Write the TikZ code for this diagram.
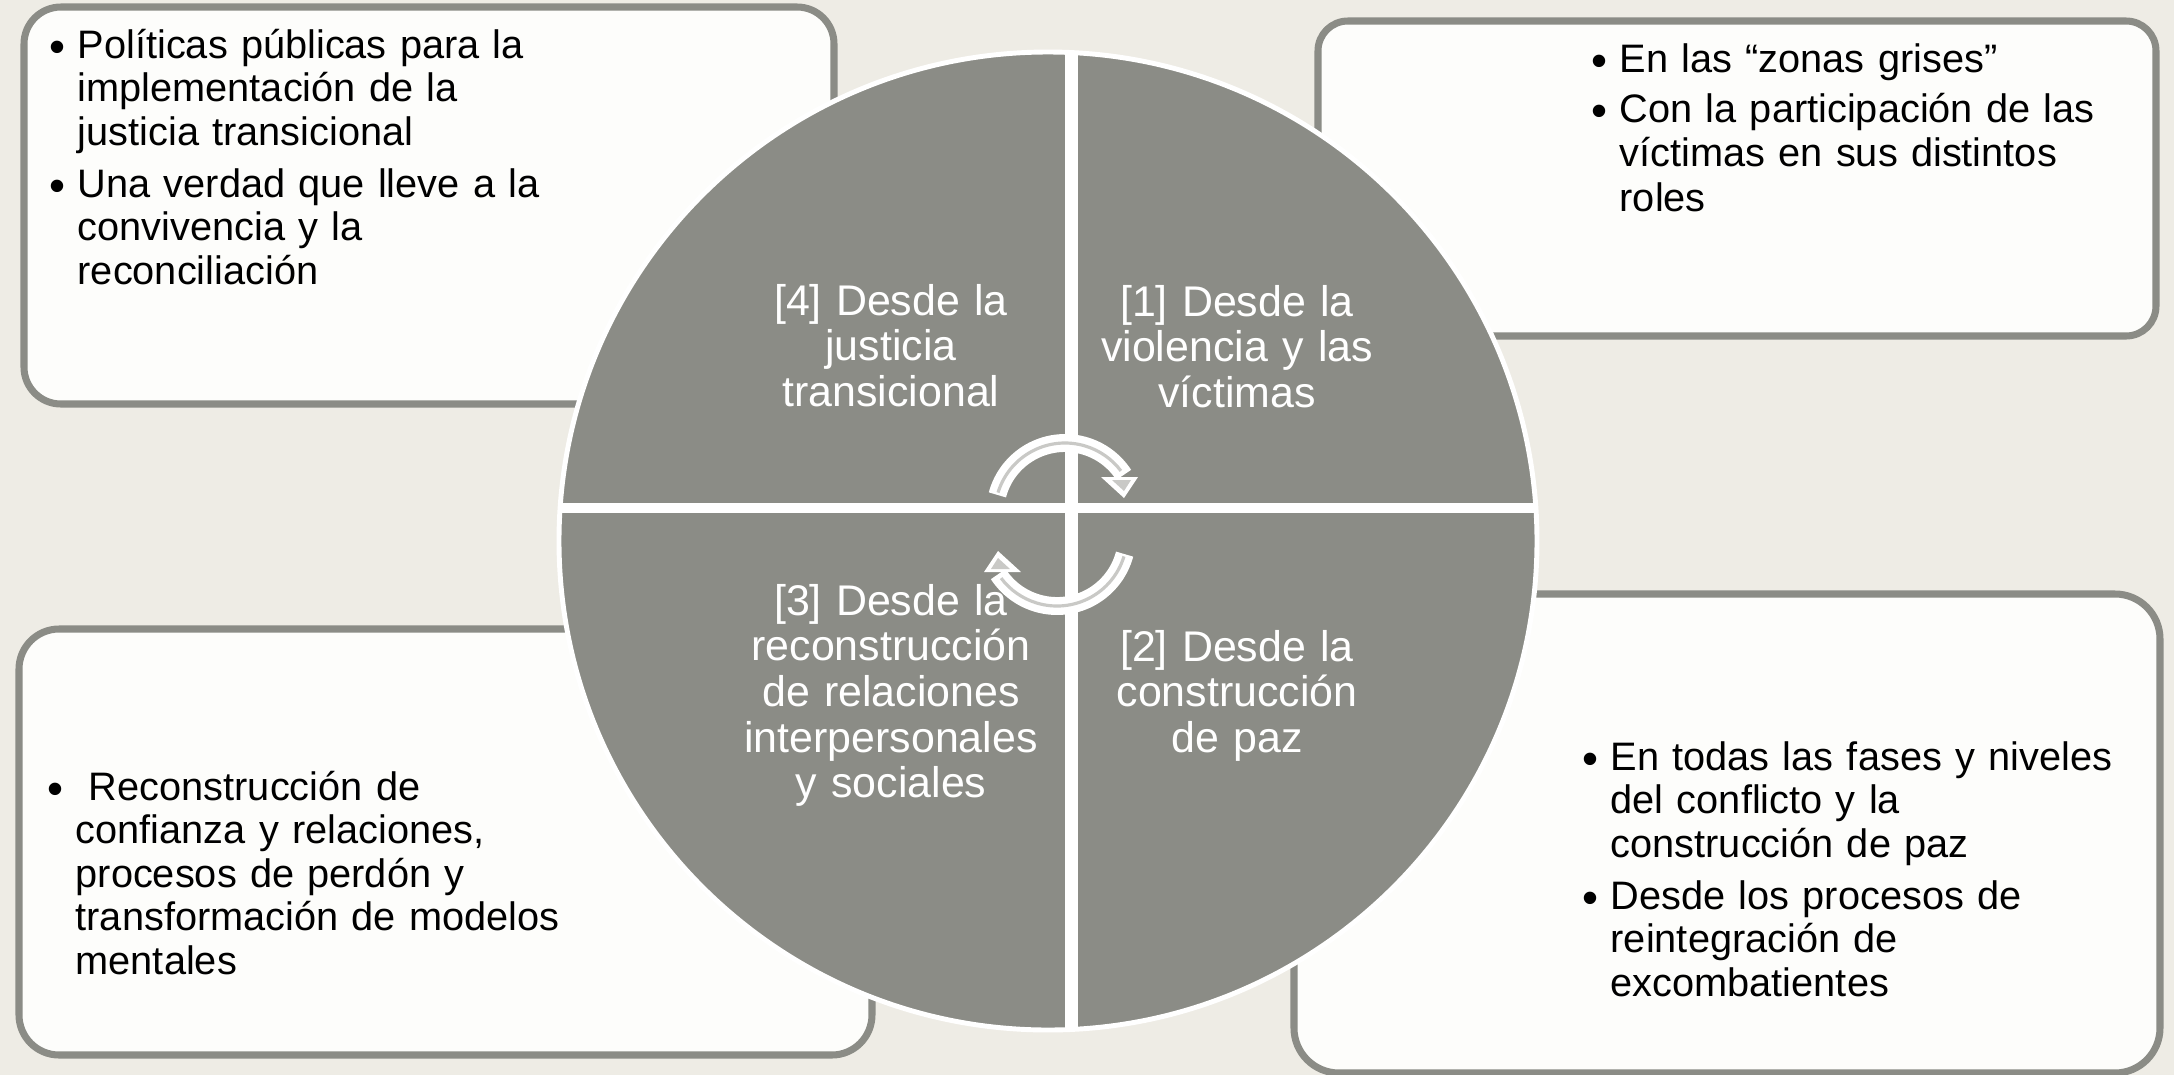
\documentclass[tikz,border=0pt]{standalone}
\usepackage{fontspec}
\setmainfont{Liberation Sans}
\definecolor{bg}{HTML}{EEECE5}
\definecolor{boxfill}{HTML}{FDFDFB}
\definecolor{frame}{HTML}{8B8C86}
\definecolor{disc}{HTML}{8B8C86}
\definecolor{stripe}{HTML}{C9C9C6}
\newcommand{\mybul}{\leavevmode\llap{\raisebox{-1.3pt}{\fontsize{13}{13}\selectfont •}\hspace{3.6pt}}}
\newcommand{\cyclearrow}{%
  \draw[white, line width=5.1pt] ([shift={(-165:70)}]1065,513) arc[start angle=-165, end angle=-33, radius=70];
  \draw[stripe, line width=0.9pt] ([shift={(-163:70)}]1065,513) arc[start angle=-163, end angle=-37, radius=70];
  \fill[white] (1101,477) -- (1138,477) -- (1124,498) -- cycle;
  \fill[stripe] (1112,480) -- (1131,480) -- (1124,491) -- cycle;
}
\begin{document}
\begin{tikzpicture}[x=0.01cm,y=-0.01cm,
  box/.style={draw=frame, fill=boxfill, line width=2pt},
  btxt/.style={anchor=base west, inner sep=0pt, text width=12cm, align=left,
    font=\fontsize{11.3}{12.4}\selectfont, text=black},
  ctxt/.style={anchor=base, inner sep=0pt, text width=3.4cm, align=center,
    font=\fontsize{12.2}{13}\selectfont, text=white}]
\fill[bg] (0,0) rectangle (2174,1075);
\useasboundingbox (0,0) rectangle (2174,1075);
% side boxes
\draw[box, rounded corners=10.5pt] (24,7) rectangle (834,404);
\draw[box, rounded corners=8.5pt] (1318,21) rectangle (2156,336);
\draw[box, rounded corners=11.4pt] (19,629) rectangle (872,1055);
\draw[box, rounded corners=12.8pt] (1294,594) rectangle (2160,1073);
% disc
\fill[disc] (1048,541) circle[radius=489];
\begin{scope}
  \clip (1048,541) circle[radius=489];
  \fill[white] (1064.5,0) rectangle (1077.5,1075);
  \fill[white] (0,502.5) rectangle (2174,513);
\end{scope}
\draw[white, line width=1.4pt] (1048,541) circle[radius=489];
% cycle arrows
\cyclearrow
\begin{scope}[rotate around={180:(1061,524.5)}]
  \cyclearrow
\end{scope}
% box texts
\node[btxt] (tl1) at (77,58) {\mybul Políticas públicas para la\\implementación de la\\justicia transicional\\[2.4pt]\mybul Una verdad que lleve a la\\convivencia y la\\reconciliación};
\node[btxt, font=\fontsize{11.3}{12.7}\selectfont] (tr1) at (1619,72) {\mybul En las “zonas grises”\\[1.6pt]\mybul Con la participación de las\\víctimas en sus distintos\\roles};
\node[btxt] (bl1) at (75,800) {\mybul\ Reconstrucción de\\confianza y relaciones,\\procesos de perdón y\\transformación de modelos\\mentales};
\node[btxt] (br1) at (1610,770) {\mybul En todas las fases y niveles\\del conflicto y la\\construcción de paz\\[2.4pt]\mybul Desde los procesos de\\reintegración de\\excombatientes};
% quadrant labels
\node[ctxt] (q4) at (891,315) {[4] Desde la\\justicia\\transicional};
\node[ctxt] (q1) at (1237,316) {[1] Desde la\\violencia y las\\víctimas};
\node[ctxt] (q3) at (891,615) {[3] Desde la\\reconstrucción\\de relaciones\\interpersonales\\y sociales};
\node[ctxt] (q2) at (1237,661) {[2] Desde la\\construcción\\de paz};
\end{tikzpicture}
\end{document}
